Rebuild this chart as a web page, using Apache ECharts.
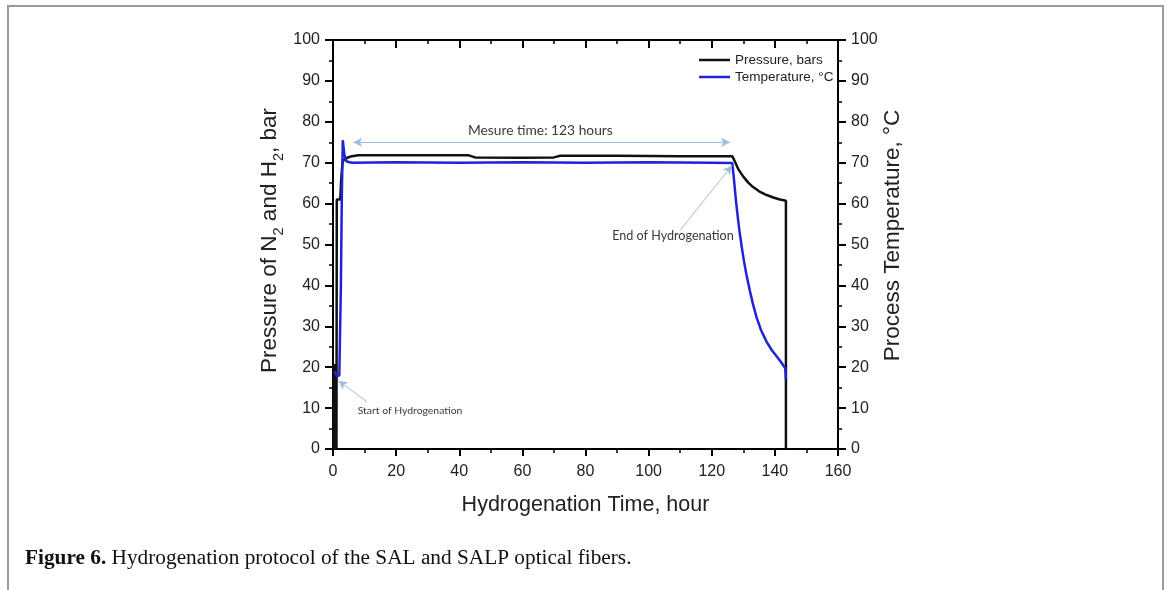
<!DOCTYPE html>
<html>
<head>
<meta charset="utf-8">
<script src="https://cdn.jsdelivr.net/npm/echarts@6/dist/echarts.min.js"></script>
<style>
html,body{margin:0;padding:0;background:#fff;}
#chart{width:1170px;height:590px;}
</style>
</head>
<body>
<div id="chart"></div>
<script>
// ---- Data ----
const pressureHours = [0.3, 0.3, 1.1, 1.1, 1.2, 1.2, 2.3, 2.6, 3.0, 3.5, 4.5, 6, 8, 20, 43, 45, 60, 70, 72, 90, 110, 126.5, 127.5, 128.5, 130, 131.5, 133, 135, 137.4, 139.5, 141.6, 143.5, 143.5];
const pressureBar   = [0, 20.5, 20.5, 0, 0, 61, 61, 66, 70, 70.8, 71.2, 71.6, 71.8, 71.8, 71.8, 71.3, 71.2, 71.3, 71.7, 71.7, 71.6, 71.6, 70.0, 68.3, 66.6, 65.2, 64.1, 63.0, 62.1, 61.5, 61.0, 60.7, 0];

const tempHours = [0.5, 0.8, 1.2, 1.6, 2.0, 2.2, 2.5, 2.8, 3.1, 3.6, 4.3, 6, 20, 40, 60, 80, 100, 120, 126.5, 126.9, 127.3, 127.7, 128.2, 128.8, 129.5, 130.2, 131, 132.1, 133, 134.2, 135.7, 137.4, 139, 140.6, 142, 143.3, 143.5];
const tempC     = [19.0, 18.5, 17.8, 17.5, 18.0, 17.6, 40, 62, 75.5, 72, 70.3, 70.0, 70.1, 70.0, 70.1, 70.0, 70.1, 70.0, 69.9, 67.0, 63.8, 60.5, 57.0, 53.2, 49.4, 46.0, 42.6, 38.6, 35.6, 32.2, 28.9, 26.2, 24.2, 22.6, 21.2, 19.7, 17];

const seriesNames = ['Pressure, bars', 'Temperature, \u00B0C'];

// annotations: text and anchor (hours, value)
const noteTexts  = ['Mesure time: 123 hours', 'End of Hydrogenation', 'Start of Hydrogenation'];
const noteHours  = [65.7, 107.7, 24.4];
const noteValues = [77.8, 52.2, 9.3];
const noteSizes  = [13.8, 12.6, 10.4];

// arrows: from -> to (hours, value)
const arrowFromHours = [6.4, 110.0, 10.7];
const arrowFromVals  = [75.0, 53.5, 11.6];
const arrowToHours   = [125.8, 126.4, 1.7];
const arrowToVals    = [75.0, 69.3, 16.7];
const arrowBothEnds  = [true, false, false];

const xMin = 0, xMax = 160, xInterval = 20;
const yMin = 0, yMax = 100, yInterval = 10;

// ---- build ----
const pressureData = pressureHours.map((h, i) => [h, pressureBar[i]]);
const tempData = tempHours.map((h, i) => [h, tempC[i]]);

const arrowLines = arrowFromHours.map((h, i) => ([
  { coord: [h, arrowFromVals[i]], symbol: arrowBothEnds[i] ? 'arrow' : 'none' },
  { coord: [arrowToHours[i], arrowToVals[i]], symbol: 'arrow' }
]));
const notePoints = noteTexts.map((t, i) => ({
  coord: [noteHours[i], noteValues[i]],
  label: { formatter: t, fontSize: noteSizes[i] }
}));

const FONT = 'Liberation Sans, Arial, sans-serif';
const tickLabel = { fontFamily: FONT, fontSize: 16, color: '#222' };
const nameStyleX = { fontFamily: FONT, fontSize: 21.5, color: '#222' };
const nameStyleY = { fontFamily: FONT, fontSize: 22.5, color: '#222' };

const chart = echarts.init(document.getElementById('chart'), null, { renderer: 'canvas' });

chart.setOption({
  animation: false,
  backgroundColor: '#fff',
  grid: { left: 333, right: 332, top: 40, bottom: 141 },
  legend: {
    orient: 'vertical',
    left: 699, top: 53, padding: 0,
    icon: 'rect',
    itemWidth: 31, itemHeight: 2.5, itemGap: 3,
    textStyle: { fontFamily: FONT, fontSize: 13.5, color: '#222', lineHeight: 14 },
    data: seriesNames
  },
  xAxis: [{
    type: 'value', position: 'bottom', min: xMin, max: xMax, interval: xInterval,
    name: 'Hydrogenation Time, hour', nameLocation: 'middle', nameGap: 45,
    nameTextStyle: nameStyleX,
    axisLine: { show: true, onZero: false, lineStyle: { color: '#000', width: 2 } },
    axisTick: { show: true, length: 7, lineStyle: { color: '#000', width: 2 } },
    minorTick: { show: true, splitNumber: 2, length: 4, lineStyle: { color: '#000', width: 1.5 } },
    axisLabel: Object.assign({ margin: 15 }, tickLabel),
    splitLine: { show: false }
  }, {
    type: 'value', position: 'top', min: xMin, max: xMax, interval: xInterval,
    axisLine: { show: true, onZero: false, lineStyle: { color: '#000', width: 2 } },
    axisTick: { show: true, inside: true, length: 8, lineStyle: { color: '#000', width: 2 } },
    minorTick: { show: true, splitNumber: 2, length: 4, lineStyle: { color: '#000', width: 1.5 } },
    axisLabel: { show: false },
    splitLine: { show: false }
  }],
  yAxis: [{
    type: 'value', position: 'left', min: yMin, max: yMax, interval: yInterval,
    name: '{a|Pressure of N}{s|2}{a| and H}{s|2}{a|, bar}',
    nameLocation: 'middle', nameGap: 47,
    nameTextStyle: Object.assign({}, nameStyleY, {
      padding: [0, 0, 0, 8],
      rich: {
        a: { fontFamily: FONT, fontSize: 22.5, color: '#222', lineHeight: 32, verticalAlign: 'middle' },
        s: { fontFamily: FONT, fontSize: 14.5, color: '#222', lineHeight: 21, verticalAlign: 'bottom' }
      }
    }),
    axisLine: { show: true, onZero: false, lineStyle: { color: '#000', width: 2 } },
    axisTick: { show: true, length: 8, lineStyle: { color: '#000', width: 2 } },
    minorTick: { show: true, splitNumber: 2, length: 4, lineStyle: { color: '#000', width: 1.5 } },
    axisLabel: Object.assign({ margin: 13 }, tickLabel),
    splitLine: { show: false }
  }, {
    type: 'value', position: 'right', min: yMin, max: yMax, interval: yInterval,
    name: 'Process Temperature, \u00B0C', nameLocation: 'middle', nameGap: 36,
    nameTextStyle: Object.assign({}, nameStyleY, { padding: [0, 0, 0, 18] }),
    axisLine: { show: true, onZero: false, lineStyle: { color: '#000', width: 2 } },
    axisTick: { show: true, length: 8, lineStyle: { color: '#000', width: 2 } },
    minorTick: { show: true, splitNumber: 2, length: 4, lineStyle: { color: '#000', width: 1.5 } },
    axisLabel: Object.assign({ margin: 13 }, tickLabel),
    splitLine: { show: false }
  }],
  series: [{
    name: seriesNames[0], type: 'line', xAxisIndex: 0, yAxisIndex: 0,
    data: pressureData, showSymbol: false, symbol: 'none', smooth: false,
    lineStyle: { color: '#111', width: 2.5 }, itemStyle: { color: '#111' },
    z: 3
  }, {
    name: seriesNames[1], type: 'line', xAxisIndex: 0, yAxisIndex: 1,
    data: tempData, showSymbol: false, symbol: 'none', smooth: false,
    lineStyle: { color: '#2222d6', width: 2.5 }, itemStyle: { color: '#2222d6' },
    z: 4,
    markLine: {
      silent: true, animation: false,
      symbolSize: [7, 9],
      lineStyle: { color: '#9dbde3', width: 1, type: 'solid' },
      itemStyle: { color: '#6f9fd6' },
      label: { show: false },
      emphasis: { disabled: true },
      data: arrowLines
    },
    markPoint: {
      silent: true, animation: false,
      symbol: 'circle', symbolSize: 0,
      label: { show: true, position: 'inside', color: '#3a3a3a', fontFamily: 'Lato, "Open Sans", sans-serif' },
      data: notePoints
    }
  }],
  graphic: [{
    type: 'polyline',
    shape: { points: [[8, 590], [8, 6], [1163, 6], [1163, 590]] },
    style: { stroke: '#9a9a9a', lineWidth: 2, fill: null },
    silent: true
  }, {
    type: 'text', left: 25, top: 548,
    style: {
      text: '{b|Figure 6.} Hydrogenation protocol of the SAL and SALP optical fibers.',
      font: '21.3px "Liberation Serif", serif', fill: '#111',
      rich: { b: { fontFamily: '"Liberation Serif", serif', fontWeight: 'bold', fontSize: 21.3, fill: '#111' } }
    }
  }]
});
</script>
</body>
</html>
